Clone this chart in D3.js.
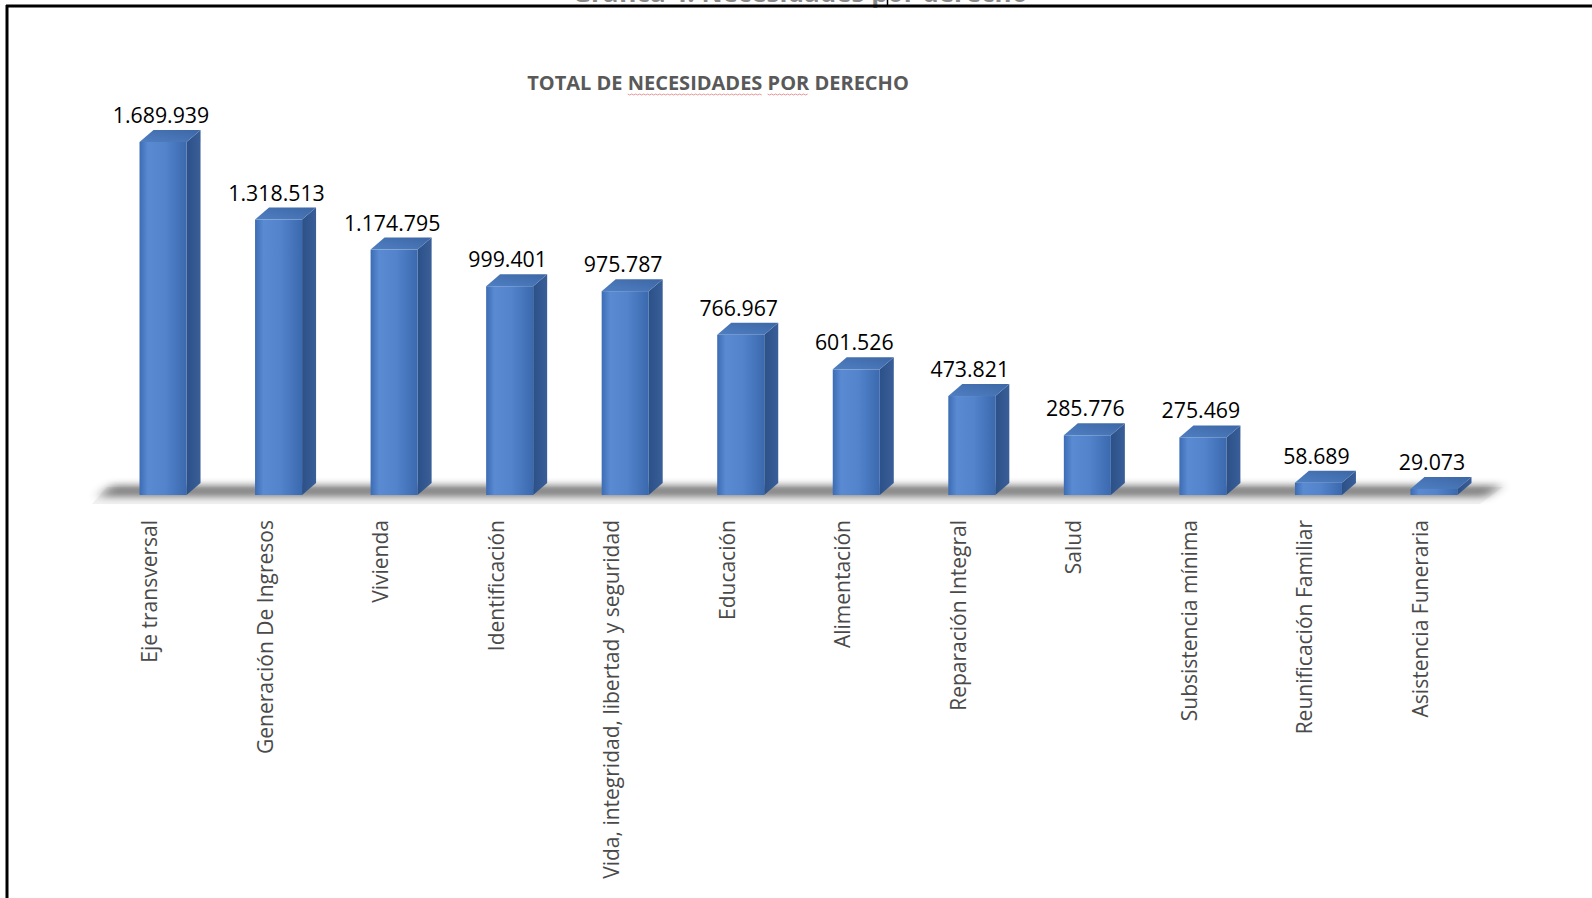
<!DOCTYPE html>
<html lang="es">
<head>
<meta charset="utf-8">
<title>Total de necesidades por derecho</title>
<script src="https://cdn.jsdelivr.net/npm/d3@7"></script>
<style>
  html, body { margin: 0; padding: 0; background: #fff; }
  svg { display: block; }
</style>
</head>
<body>
<svg id="chart" width="1592" height="898"></svg>
<script>
// Rights (categories) and the total number of needs registered for each
const categories = [
  "Eje transversal",
  "Generación De Ingresos",
  "Vivienda",
  "Identificación",
  "Vida, integridad, libertad y seguridad",
  "Educación",
  "Alimentación",
  "Reparación Integral",
  "Salud",
  "Subsistencia mínima",
  "Reunificación Familiar",
  "Asistencia Funeraria"
];
const values = [1689939, 1318513, 1174795, 999401, 975787, 766967, 601526, 473821, 285776, 275469, 58689, 29073];

const chartTitle = "TOTAL DE NECESIDADES POR DERECHO";
const docCaption = "Gráfica 4. Necesidades por derecho";

// Spanish number format: dot as thousands separator
const esLocale = d3.formatLocale({ decimal: ",", thousands: ".", grouping: [3], currency: ["$", ""] });
const fmt = esLocale.format(",d");

const svg = d3.select("#chart");
const defs = svg.append("defs");

// ---- page frame (document table border, caption of the page above) ----
svg.append("text")
  .attr("x", 800).attr("y", 2)
  .attr("text-anchor", "middle")
  .attr("font-family", "Open Sans, sans-serif")
  .attr("font-weight", "bold")
  .attr("font-size", 26)
  .attr("fill", "#8a8a8a")
  .text(docCaption);
svg.append("line").attr("x1", 6).attr("x2", 1592).attr("y1", 6).attr("y2", 6)
  .attr("stroke", "#000").attr("stroke-width", 3);
svg.append("line").attr("x1", 7).attr("x2", 7).attr("y1", 5).attr("y2", 898)
  .attr("stroke", "#000").attr("stroke-width", 3);
svg.append("line").attr("x1", 887.5).attr("x2", 887.5).attr("y1", 0).attr("y2", 6)
  .attr("stroke", "#000").attr("stroke-width", 1.5);

// ---- scales ----
const x = d3.scaleBand()
  .domain(categories)
  .range([105.25, 1491.75])
  .paddingInner(0.593)
  .paddingOuter(0.2965);

const y = d3.scaleLinear()
  .domain([0, d3.max(values)])
  .range([495, 142]);

const depthX = 14, depthY = 12;
const baseY = y(0);

// ---- gradients & filters ----
const gFront = defs.append("linearGradient").attr("id", "front").attr("x1", 0).attr("x2", 1).attr("y1", 0).attr("y2", 0);
[["0%", "#3c6cb4"], ["18%", "#5a8bd2"], ["55%", "#5283cb"], ["100%", "#3b69ae"]]
  .forEach(([o, c]) => gFront.append("stop").attr("offset", o).attr("stop-color", c));

const gSide = defs.append("linearGradient").attr("id", "side").attr("x1", 0).attr("x2", 1).attr("y1", 0).attr("y2", 0);
[["0%", "#2c5088"], ["100%", "#3a5f98"]]
  .forEach(([o, c]) => gSide.append("stop").attr("offset", o).attr("stop-color", c));

const gTop = defs.append("linearGradient").attr("id", "top").attr("x1", 0).attr("x2", 1).attr("y1", 1).attr("y2", 0);
[["0%", "#4f7fc2"], ["100%", "#3d67a6"]]
  .forEach(([o, c]) => gTop.append("stop").attr("offset", o).attr("stop-color", c));

defs.append("filter").attr("id", "blurShadow")
  .attr("x", "-5%").attr("y", "-150%").attr("width", "110%").attr("height", "400%")
  .append("feGaussianBlur").attr("stdDeviation", "6 3.5");
defs.append("filter").attr("id", "softLine")
  .attr("x", "-5%").attr("y", "-200%").attr("width", "110%").attr("height", "500%")
  .append("feGaussianBlur").attr("stdDeviation", 0.8);

// ---- chart title ----
const titleSize = 20;
const titleEl = svg.append("text")
  .attr("x", 718).attr("y", 90)
  .attr("text-anchor", "middle")
  .attr("font-family", "Open Sans, sans-serif")
  .attr("font-weight", "bold")
  .attr("font-size", titleSize)
  .attr("fill", "#595959")
  .text(chartTitle);

// spell-check style squiggle under two of the words
(function () {
  const node = titleEl.node();
  const full = chartTitle;
  const x0 = 718 - node.getComputedTextLength() / 2;
  ["NECESIDADES", "POR"].forEach(word => {
    const i = full.indexOf(word);
    const a = x0 + (i > 0 ? node.getSubStringLength(0, i) : 0);
    const b = a + node.getSubStringLength(i, word.length);
    const pts = [];
    for (let px = a, k = 0; px <= b; px += 2, k++) pts.push([px, 94 + (k % 2 ? 1 : 0)]);
    svg.append("path")
      .attr("d", d3.line()(pts))
      .attr("fill", "none")
      .attr("stroke", "#e58a8a")
      .attr("stroke-width", 0.9);
  });
})();

// ---- floor ----
const floor = svg.append("g");
floor.append("polygon")
  .attr("points", [[92, 504], [1480, 504], [1503, 487], [107, 487]].join(" "))
  .attr("fill", "#f2f2f2");
floor.append("polygon")
  .attr("points", [[98, 497], [1486, 497], [1502, 485], [112, 485]].join(" "))
  .attr("fill", "#4a4a4a")
  .attr("opacity", 0.65)
  .attr("filter", "url(#blurShadow)");
floor.append("line")
  .attr("x1", 92).attr("x2", 1480).attr("y1", 504).attr("y2", 504)
  .attr("stroke", "#d2d2d2").attr("stroke-width", 2.5)
  .attr("filter", "url(#softLine)");

// ---- 3D bars ----
const bars = svg.append("g").selectAll("g.bar")
  .data(categories.map((c, i) => ({ c, v: values[i] })))
  .join("g").attr("class", "bar");

bars.append("polygon") // side face
  .attr("points", d => {
    const x1 = x(d.c) + x.bandwidth(), yt = y(d.v);
    return [[x1, yt], [x1 + depthX, yt - depthY], [x1 + depthX, baseY - depthY], [x1, baseY]].join(" ");
  })
  .attr("fill", "url(#side)");

bars.append("polygon") // top face
  .attr("points", d => {
    const x0 = x(d.c), x1 = x0 + x.bandwidth(), yt = y(d.v);
    return [[x0, yt], [x1, yt], [x1 + depthX, yt - depthY], [x0 + depthX, yt - depthY]].join(" ");
  })
  .attr("fill", "url(#top)");

bars.append("rect") // front face
  .attr("x", d => x(d.c))
  .attr("y", d => y(d.v))
  .attr("width", x.bandwidth())
  .attr("height", d => baseY - y(d.v))
  .attr("fill", "url(#front)");

// value labels
bars.append("text")
  .attr("x", d => x(d.c) + x.bandwidth() / 2 - 2)
  .attr("y", d => y(d.v) - depthY - 7)
  .attr("text-anchor", "middle")
  .attr("font-family", "Open Sans, sans-serif")
  .attr("font-size", 21.3)
  .attr("fill", "#000")
  .text(d => fmt(d.v));

// ---- category axis ----
const axisY = 504;
const axis = svg.append("g")
  .attr("transform", `translate(0,${axisY})`)
  .call(d3.axisBottom(x).tickSize(0).tickPadding(0));
axis.select(".domain").remove();
axis.selectAll("text")
  .attr("transform", "rotate(-90)")
  .attr("text-anchor", "end")
  .attr("dy", 0)
  .attr("x", -16)
  .attr("y", -6)
  .attr("font-family", "Open Sans, sans-serif")
  .attr("font-size", 21)
  .attr("fill", "#4a4a4a");
</script>
</body>
</html>
